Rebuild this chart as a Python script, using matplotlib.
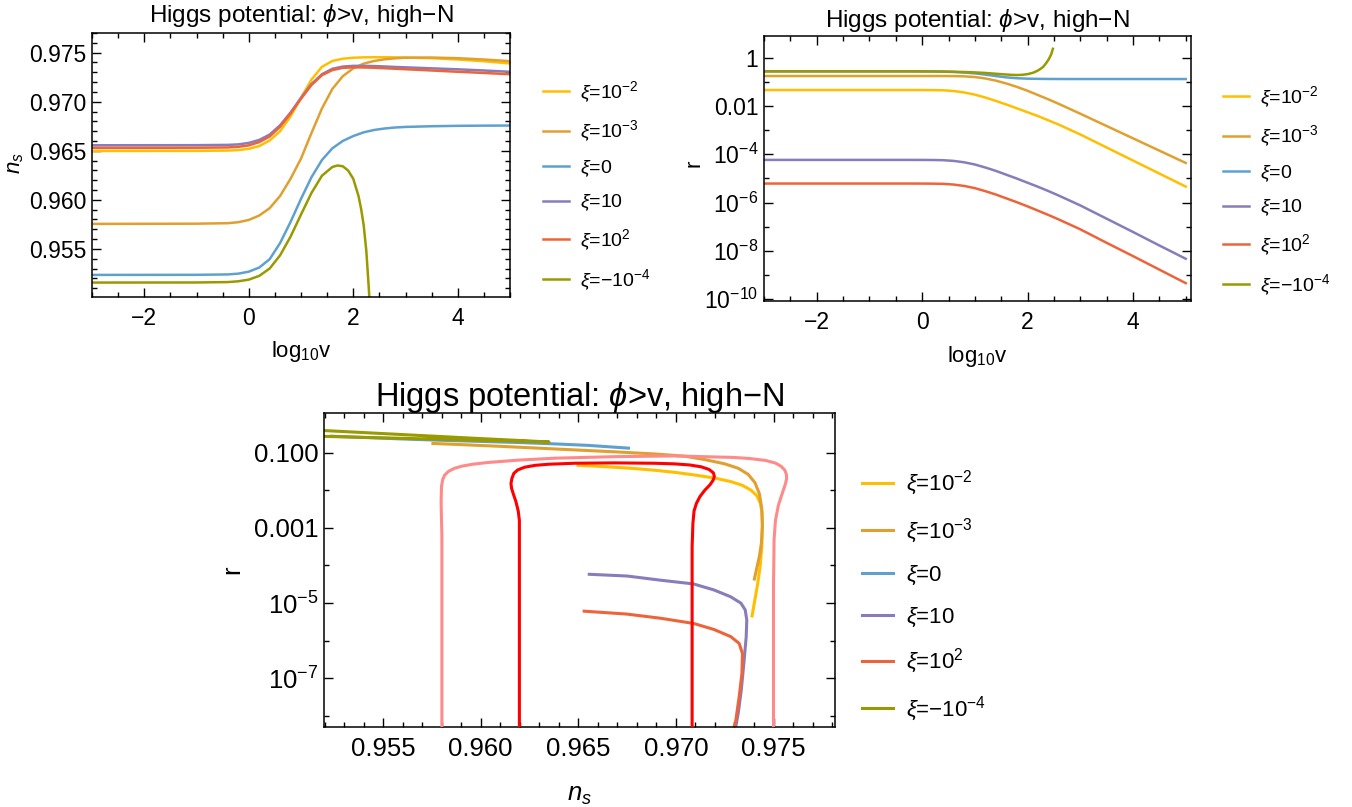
import numpy as np
import matplotlib
matplotlib.use("Agg")
import matplotlib.pyplot as plt
from matplotlib.lines import Line2D
from matplotlib.ticker import FixedLocator, FixedFormatter, MultipleLocator, NullFormatter

plt.rcParams['font.family'] = ['Liberation Sans', 'DejaVu Sans']
plt.rcParams['mathtext.fontset'] = 'custom'
plt.rcParams['mathtext.rm'] = 'Liberation Sans'
plt.rcParams['mathtext.it'] = 'Liberation Sans:italic'
plt.rcParams['mathtext.bf'] = 'Liberation Sans:bold'

# ---------------- data ----------------
labels = [r'$\xi$=$10^{-2}$', r'$\xi$=$10^{-3}$', r'$\xi$=0', r'$\xi$=10',
          r'$\xi$=$10^{2}$', r'$\xi$=$-10^{-4}$']
colors = ['#FFBF00', '#E0A030', '#5FA1CE', '#887CBA', '#EE643A', '#999900']

# log10 v grid for the top panels
logv = [-3.0, -1.0, -0.4, -0.2, 0.0, 0.2, 0.4, 0.6, 0.8, 1.0, 1.2, 1.4, 1.6, 1.8,
        2.0, 2.2, 2.4, 2.6, 2.8, 3.0, 3.5, 4.0, 4.5, 5.0]
logv_neg = [-3.0, -1.0, -0.4, -0.2, 0.0, 0.2, 0.4, 0.6, 0.8, 1.0, 1.2, 1.4, 1.6, 1.7,
            1.8, 1.9, 2.0, 2.1, 2.15, 2.2, 2.25, 2.3, 2.35, 2.4, 2.45, 2.48]

ns_xi_1em2 = [0.96498, 0.96499, 0.96502, 0.96507, 0.96520, 0.96548, 0.96605, 0.96700, 0.96850, 0.97040,
              0.97225, 0.97355, 0.97415, 0.97438, 0.97448, 0.97452, 0.97453, 0.97453, 0.97452, 0.97450,
              0.97443, 0.97430, 0.97412, 0.97390]
ns_xi_1em3 = [0.95755, 0.95757, 0.95762, 0.95772, 0.95795, 0.95840, 0.95915, 0.96040, 0.96215, 0.96420,
              0.96680, 0.96930, 0.97130, 0.97260, 0.97340, 0.97388, 0.97415, 0.97432, 0.97442, 0.97448,
              0.97450, 0.97443, 0.97430, 0.97413]
ns_xi_0 = [0.95235, 0.95236, 0.95240, 0.95248, 0.95268, 0.95310, 0.95395, 0.95560, 0.95775, 0.96010,
           0.96230, 0.96405, 0.96525, 0.96600, 0.96650, 0.96688, 0.96712, 0.96727, 0.96737, 0.96743,
           0.96750, 0.96754, 0.96756, 0.96757]
ns_xi_10 = [0.96556, 0.96557, 0.96560, 0.96565, 0.96580, 0.96610, 0.96665, 0.96760, 0.96890, 0.97040,
            0.97180, 0.97280, 0.97335, 0.97358, 0.97365, 0.97365, 0.97363, 0.97359, 0.97354, 0.97350,
            0.97340, 0.97330, 0.97318, 0.97305]
ns_xi_100 = [0.96530, 0.96531, 0.96534, 0.96540, 0.96555, 0.96588, 0.96645, 0.96745, 0.96880, 0.97030,
             0.97170, 0.97270, 0.97322, 0.97345, 0.97350, 0.97349, 0.97346, 0.97341, 0.97336, 0.97331,
             0.97318, 0.97305, 0.97293, 0.97280]
ns_xi_neg = [0.95157, 0.95158, 0.95162, 0.95170, 0.95187, 0.95225, 0.95300, 0.95435, 0.95625, 0.95850,
             0.96070, 0.96245, 0.96335, 0.96350, 0.96342, 0.96300, 0.96215, 0.96040, 0.95910, 0.95740,
             0.95480, 0.95080, 0.94550, 0.93900, 0.93100, 0.92500]

# log10 r on the same grids
lr_xi_1em2 = [-1.338, -1.338, -1.338, -1.338, -1.339, -1.342, -1.350, -1.380, -1.440, -1.530, -1.650, -1.790,
              -1.940, -2.100, -2.260, -2.420, -2.600, -2.780, -2.980, -3.180, -3.720, -4.260, -4.800, -5.340]
lr_xi_1em3 = [-0.759, -0.759, -0.759, -0.759, -0.759, -0.759, -0.759, -0.762, -0.772, -0.800, -0.860, -0.950,
              -1.070, -1.210, -1.370, -1.550, -1.730, -1.920, -2.120, -2.320, -2.830, -3.340, -3.850, -4.360]
lr_xi_0 = [-0.566, -0.566, -0.566, -0.566, -0.567, -0.570, -0.578, -0.592, -0.615, -0.650, -0.700, -0.760,
           -0.815, -0.850, -0.868, -0.876, -0.880, -0.882, -0.883, -0.883, -0.883, -0.883, -0.883, -0.883]
lr_xi_10 = [-4.234, -4.234, -4.234, -4.234, -4.235, -4.238, -4.246, -4.276, -4.334, -4.424, -4.550, -4.690,
            -4.850, -5.010, -5.180, -5.350, -5.530, -5.720, -5.920, -6.120, -6.670, -7.220, -7.780, -8.330]
lr_xi_100 = [-5.214, -5.214, -5.214, -5.214, -5.215, -5.218, -5.226, -5.256, -5.314, -5.404, -5.530, -5.670,
             -5.830, -5.990, -6.160, -6.340, -6.520, -6.710, -6.910, -7.110, -7.670, -8.220, -8.780, -9.340]
lr_xi_neg = [-0.566, -0.566, -0.566, -0.566, -0.567, -0.569, -0.573, -0.580, -0.592, -0.608, -0.632, -0.665,
             -0.697, -0.710, -0.717, -0.708, -0.680, -0.625, -0.580, -0.525, -0.455, -0.370, -0.230, -0.070,
             0.150, 0.370]

# bottom panel: (n_s, log10 r) traces
b_ns_1em2 = [0.96499, 0.96600, 0.96700, 0.96800, 0.96900, 0.97000, 0.97100, 0.97200, 0.97280, 0.97340,
             0.97385, 0.97415, 0.97433, 0.97441, 0.97443, 0.97440, 0.97432, 0.97420, 0.97405, 0.97390]
b_lr_1em2 = [-1.338, -1.365, -1.395, -1.430, -1.475, -1.530, -1.600, -1.680, -1.770, -1.870,
             -2.000, -2.150, -2.350, -2.600, -2.900, -3.500, -4.000, -4.450, -4.900, -5.340]
b_ns_1em3 = [0.95755, 0.95900, 0.96100, 0.96300, 0.96500, 0.96700, 0.96900, 0.97050, 0.97150, 0.97250,
             0.97320, 0.97370, 0.97405, 0.97428, 0.97440, 0.97443, 0.97438, 0.97428, 0.97415, 0.97402]
b_lr_1em3 = [-0.759, -0.790, -0.835, -0.885, -0.935, -0.985, -1.040, -1.100, -1.190, -1.300,
             -1.420, -1.580, -1.800, -2.100, -2.500, -2.950, -3.400, -3.750, -4.050, -4.360]
b_ns_0 = [0.95235, 0.95400, 0.95600, 0.95800, 0.96000, 0.96200, 0.96400, 0.96550, 0.96650, 0.96720, 0.96757]
b_lr_0 = [-0.566, -0.600, -0.640, -0.675, -0.705, -0.735, -0.775, -0.810, -0.845, -0.870, -0.883]
b_ns_10 = [0.96556, 0.96750, 0.96920, 0.97090, 0.97195, 0.97280, 0.97333, 0.97355, 0.97363, 0.97360,
           0.97348, 0.97335, 0.97320, 0.97305]
b_lr_10 = [-4.234, -4.280, -4.390, -4.490, -4.650, -4.830, -5.000, -5.180, -5.450, -5.900,
           -6.600, -7.300, -7.900, -8.330]
b_ns_100 = [0.96530, 0.96747, 0.96919, 0.97091, 0.97195, 0.97281, 0.97324, 0.97341, 0.97338, 0.97324,
            0.97307, 0.97298, 0.97290]
b_lr_100 = [-5.214, -5.290, -5.400, -5.540, -5.700, -5.890, -6.070, -6.340, -6.870, -7.490, -8.110, -8.290,
            -8.600]
b_ns_neg = [0.95157, 0.95400, 0.95700, 0.96000, 0.96200, 0.96350, 0.96200, 0.96000, 0.95700, 0.95400, 0.95100]
b_lr_neg = [-0.566, -0.597, -0.636, -0.675, -0.700, -0.720, -0.680, -0.630, -0.550, -0.470, -0.390]

# observational contours (n_s, log10 r)
c95_ns = [0.97500, 0.97500, 0.97503, 0.97510, 0.97525, 0.97545, 0.97560, 0.97567, 0.97566, 0.97558,
          0.97540, 0.97510, 0.97459, 0.97380, 0.97296, 0.96991, 0.96686, 0.96381, 0.96198, 0.96035,
          0.95960, 0.95905, 0.95865, 0.95835, 0.95815, 0.95805, 0.95799, 0.95797, 0.95799, 0.95801, 0.95801]
c95_lr = [-8.6, -4.50, -3.30, -2.80, -2.40, -2.08, -1.85, -1.70, -1.58, -1.47,
          -1.37, -1.28, -1.21, -1.16, -1.13, -1.09, -1.11, -1.15, -1.20, -1.265,
          -1.31, -1.36, -1.42, -1.50, -1.60, -1.72, -1.90, -2.30, -2.80, -3.20, -8.6]
c68_ns = [0.97083, 0.97083, 0.97087, 0.97093, 0.97105, 0.97123, 0.97148, 0.97174, 0.97190, 0.97197,
          0.97192, 0.97170, 0.97130, 0.97070, 0.96990, 0.96890, 0.96686, 0.96483, 0.96350, 0.96279,
          0.96225, 0.96190, 0.96170, 0.96160, 0.96155, 0.96158, 0.96167, 0.96180, 0.96192, 0.96198, 0.96198]
c68_lr = [-8.6, -3.50, -2.88, -2.55, -2.35, -2.17, -2.00, -1.86, -1.74, -1.64,
          -1.54, -1.45, -1.38, -1.33, -1.30, -1.285, -1.275, -1.284, -1.31, -1.34,
          -1.39, -1.46, -1.55, -1.68, -1.82, -1.95, -2.10, -2.30, -2.55, -2.80, -8.6]

top_x = [logv, logv, logv, logv, logv, logv_neg]
top_ns = [ns_xi_1em2, ns_xi_1em3, ns_xi_0, ns_xi_10, ns_xi_100, ns_xi_neg]
top_lr = [lr_xi_1em2, lr_xi_1em3, lr_xi_0, lr_xi_10, lr_xi_100, lr_xi_neg]
bot_ns = [b_ns_1em2, b_ns_1em3, b_ns_0, b_ns_10, b_ns_100, b_ns_neg]
bot_lr = [b_lr_1em2, b_lr_1em3, b_lr_0, b_lr_10, b_lr_100, b_lr_neg]

title = 'Higgs potential: $\\phi$>v, high\u2212N'

# ---------------- figure ----------------
W, H = 1352, 807
fig = plt.figure(figsize=(W / 100, H / 100), dpi=100)


def ax_px(l, t, r, b):
    return fig.add_axes([l / W, 1 - b / H, (r - l) / W, (b - t) / H])


def frame_style(ax, fs):
    for s in ax.spines.values():
        s.set_linewidth(1.1)
        s.set_color('black')
    ax.tick_params(which='both', direction='in', top=True, right=True, colors='black',
                   labelsize=fs, width=1.0)
    ax.tick_params(which='major', length=6.5)
    ax.tick_params(which='minor', length=3.5)
    ax.tick_params(axis='x', pad=7)
    ax.tick_params(axis='y', pad=4)


def legend_at(ax, x_px, y_px, fs, lw, hl, sp, tp):
    handles = [Line2D([0], [0], color=c, lw=lw) for c in colors]
    ax.legend(handles, labels, loc='upper left', bbox_to_anchor=(x_px / W, 1 - y_px / H),
              bbox_transform=fig.transFigure, frameon=False, fontsize=fs, handlelength=hl,
              labelspacing=sp, handletextpad=tp, borderpad=0, borderaxespad=0)


# ---- top-left: n_s vs log10 v ----
ax1 = ax_px(92, 33, 510, 297)
for x, y, c in zip(top_x, top_ns, colors):
    ax1.plot(x, y, color=c, lw=1.8)
ax1.set_xlim(-3, 5)
ax1.set_ylim(0.9501, 0.9770)
ax1.xaxis.set_major_locator(FixedLocator([-2, 0, 2, 4]))
ax1.xaxis.set_major_formatter(FixedFormatter(['\u22122', '0', '2', '4']))
ax1.xaxis.set_minor_locator(MultipleLocator(0.5))
ax1.yaxis.set_major_locator(FixedLocator([0.955, 0.960, 0.965, 0.970, 0.975]))
ax1.yaxis.set_major_formatter(FixedFormatter(['0.955', '0.960', '0.965', '0.970', '0.975']))
ax1.yaxis.set_minor_locator(MultipleLocator(0.001))
frame_style(ax1, 16.5)
ax1.text(0.5, 1.068, title, transform=ax1.transAxes, ha='center', va='center', fontsize=17.5)
ax1.set_xlabel(r'log$_{10}$v', fontsize=16, va='center')
ax1.xaxis.set_label_coords(0.5, -0.208)
ax1.set_ylabel(r'$n_s$', fontsize=16, va='center')
ax1.yaxis.set_label_coords(-0.184, 0.508)
legend_at(ax1, 543, 79, 14, 1.8, 1.35, 0.72, 0.55)

# ---- top-right: r vs log10 v ----
ax2 = ax_px(764, 36, 1191, 301)
for x, y, c in zip(top_x, top_lr, colors):
    ax2.plot(x, 10.0 ** np.array(y), color=c, lw=1.8)
ax2.set_yscale('log')
ax2.set_xlim(-3, 5.1)
ax2.set_ylim(10 ** -10.08, 10 ** 0.9)
ax2.xaxis.set_major_locator(FixedLocator([-2, 0, 2, 4]))
ax2.xaxis.set_major_formatter(FixedFormatter(['\u22122', '0', '2', '4']))
ax2.xaxis.set_minor_locator(MultipleLocator(0.5))
ax2.yaxis.set_major_locator(FixedLocator([1, 1e-2, 1e-4, 1e-6, 1e-8, 1e-10]))
ax2.yaxis.set_major_formatter(FixedFormatter(['1', '0.01', '$10^{-4}$', '$10^{-6}$', '$10^{-8}$', '$10^{-10}$']))
ax2.yaxis.set_minor_locator(FixedLocator([1e-1, 1e-3, 1e-5, 1e-7, 1e-9]))
ax2.yaxis.set_minor_formatter(NullFormatter())
frame_style(ax2, 16.5)
ax2.text(0.5, 1.06, title, transform=ax2.transAxes, ha='center', va='center', fontsize=17.5)
ax2.set_xlabel(r'log$_{10}$v', fontsize=16, va='center')
ax2.xaxis.set_label_coords(0.5, -0.211)
ax2.set_ylabel('r', fontsize=16, va='center')
ax2.yaxis.set_label_coords(-0.165, 0.52)
legend_at(ax2, 1223, 84, 14, 1.8, 1.35, 0.72, 0.55)

# ---- bottom: r vs n_s ----
ax3 = ax_px(324, 413, 835, 727)
for x, y, c in zip(bot_ns, bot_lr, colors):
    ax3.plot(x, 10.0 ** np.array(y), color=c, lw=2.2, zorder=2)
ax3.plot(c95_ns, 10.0 ** np.array(c95_lr), color='#FF8A8A', lw=2.2, zorder=3)
ax3.plot(c68_ns, 10.0 ** np.array(c68_lr), color='#FF0000', lw=2.2, zorder=3)
ax3.set_yscale('log')
ax3.set_xlim(0.95197, 0.97815)
ax3.set_ylim(10 ** -8.29, 10 ** 0.05)
ax3.xaxis.set_major_locator(FixedLocator([0.955, 0.960, 0.965, 0.970, 0.975]))
ax3.xaxis.set_major_formatter(FixedFormatter(['0.955', '0.960', '0.965', '0.970', '0.975']))
ax3.xaxis.set_minor_locator(MultipleLocator(0.001))
ax3.yaxis.set_major_locator(FixedLocator([0.1, 1e-3, 1e-5, 1e-7]))
ax3.yaxis.set_major_formatter(FixedFormatter(['0.100', '0.001', '$10^{-5}$', '$10^{-7}$']))
ax3.yaxis.set_minor_locator(FixedLocator([1e-2, 1e-4, 1e-6, 1e-8]))
ax3.yaxis.set_minor_formatter(NullFormatter())
frame_style(ax3, 18.5)
ax3.text(0.5, 1.05, title, transform=ax3.transAxes, ha='center', va='center', fontsize=23.5)
ax3.set_xlabel(r'$n_s$', fontsize=18.5, va='center')
ax3.xaxis.set_label_coords(0.5, -0.217)
ax3.set_ylabel('r', fontsize=18.5, va='center')
ax3.yaxis.set_label_coords(-0.180, 0.5)
legend_at(ax3, 862, 469, 16, 2.2, 1.4, 0.82, 0.6)

fig.savefig('out.png', dpi=100)
